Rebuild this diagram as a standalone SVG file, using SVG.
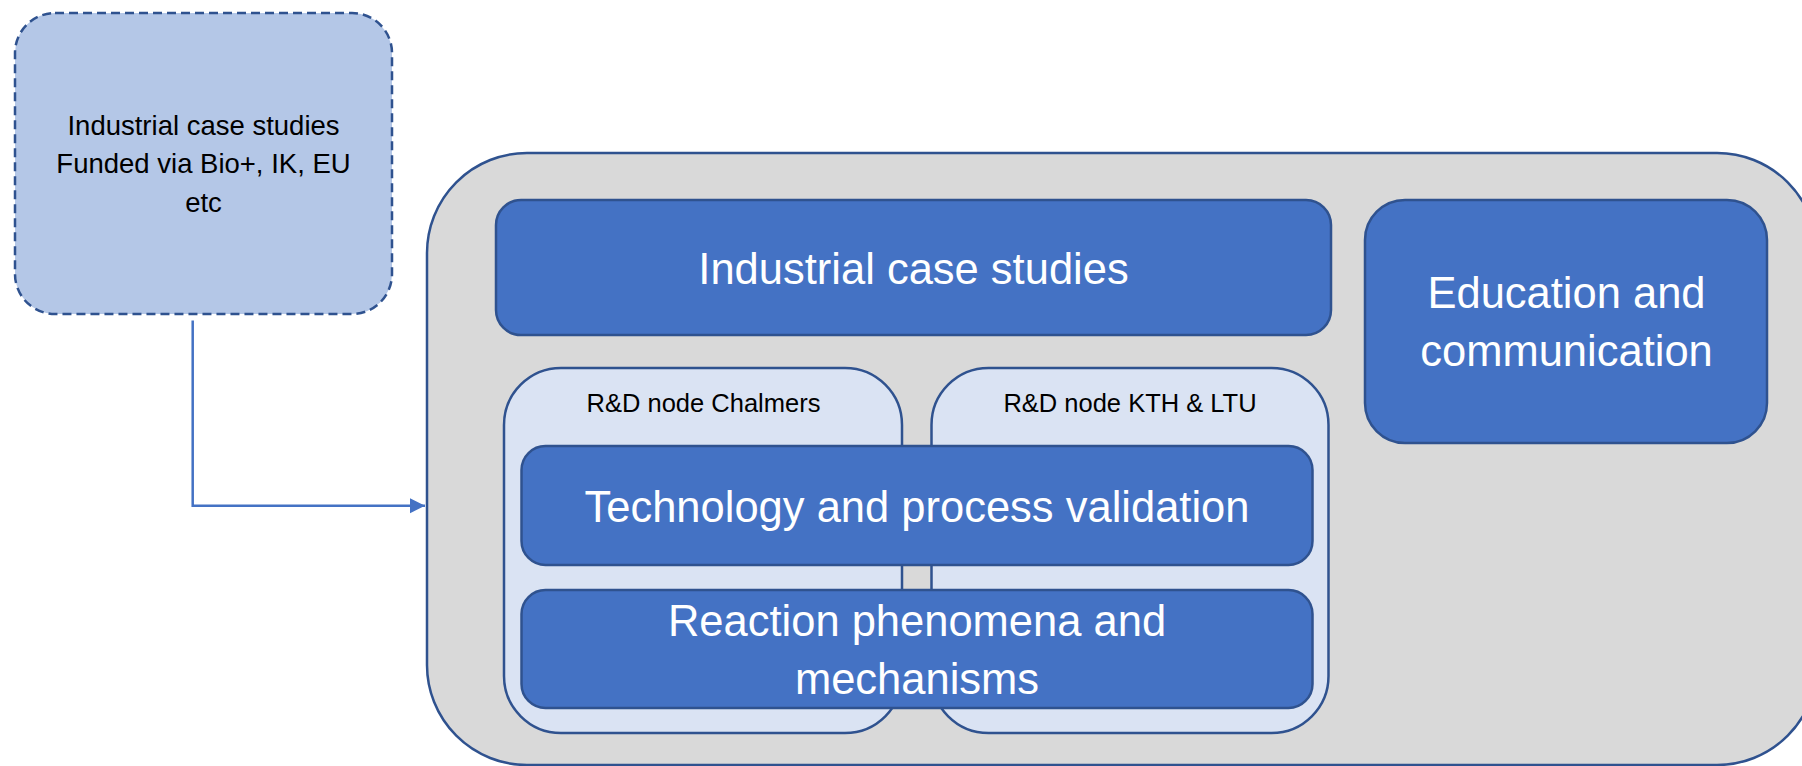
<svg xmlns="http://www.w3.org/2000/svg" width="1802" height="766" viewBox="0 0 1802 766">
  <style>
    .frame { fill: #D9D9D9; stroke: #2F528F; stroke-width: 2.5; }
    .work { fill: #4472C4; stroke: #2F528F; stroke-width: 2.5; }
    .node { fill: #DAE3F3; stroke: #2F528F; stroke-width: 2.5; }
    .ext { fill: #B4C7E7; stroke: #2F528F; stroke-width: 2.5; stroke-dasharray: 9 5; }
    .big { font-family: "Liberation Sans", Arial, sans-serif; font-size: 43.5px; fill: #FFFFFF; text-anchor: middle; }
    .lbl { font-family: "Liberation Sans", Arial, sans-serif; font-size: 25.5px; fill: #000000; text-anchor: middle; }
    .ext-t { font-family: "Liberation Sans", Arial, sans-serif; font-size: 27.5px; fill: #000000; text-anchor: middle; }
    .link { fill: none; stroke: #4472C4; stroke-width: 2.5; }
  </style>
  <defs>
    <marker id="arrow" markerWidth="15" markerHeight="16" refX="15" refY="8" orient="auto" markerUnits="userSpaceOnUse">
      <path d="M0,0.5 L15,8 L0,15.5 Z" fill="#4472C4"/>
    </marker>
  </defs>

  <!-- programme frame -->
  <g id="programme">
    <rect class="frame" x="427" y="153" width="1390" height="612" rx="100" ry="100"/>
  </g>

  <g id="industrial-case-studies">
    <rect class="work" x="496" y="200" width="835" height="135" rx="25" ry="25"/>
    <text class="big" x="913.5" y="284">Industrial case studies</text>
  </g>

  <g id="education">
    <rect class="work" x="1365" y="200" width="402" height="243" rx="40" ry="40"/>
    <text class="big" x="1566.5" y="308">Education and</text>
    <text class="big" x="1566.5" y="366">communication</text>
  </g>

  <g id="node-chalmers">
    <rect class="node" x="504" y="368" width="398" height="365" rx="57" ry="57"/>
    <text class="lbl" x="703.5" y="412">R&amp;D node Chalmers</text>
  </g>

  <g id="node-kth-ltu">
    <rect class="node" x="931.5" y="368" width="397" height="365" rx="57" ry="57"/>
    <text class="lbl" x="1130" y="412">R&amp;D node KTH &amp; LTU</text>
  </g>

  <g id="technology">
    <rect class="work" x="521.5" y="446" width="791" height="119" rx="24" ry="24"/>
    <text class="big" x="917" y="522">Technology and process validation</text>
  </g>

  <g id="reaction">
    <rect class="work" x="521.5" y="590" width="791" height="118" rx="24" ry="24"/>
    <text class="big" x="917" y="636">Reaction phenomena and</text>
    <text class="big" x="917" y="694">mechanisms</text>
  </g>

  <g id="external-cases">
    <rect class="ext" x="15" y="13" width="377" height="301" rx="40" ry="40"/>
    <text class="ext-t" x="203.5" y="135">Industrial case studies</text>
    <text class="ext-t" x="203.5" y="173">Funded via Bio+, IK, EU</text>
    <text class="ext-t" x="203.5" y="212">etc</text>
  </g>

  <g id="connectors">
    <path class="link" d="M192.7,320.5 V505.7 H425" marker-end="url(#arrow)"/>
  </g>
</svg>
